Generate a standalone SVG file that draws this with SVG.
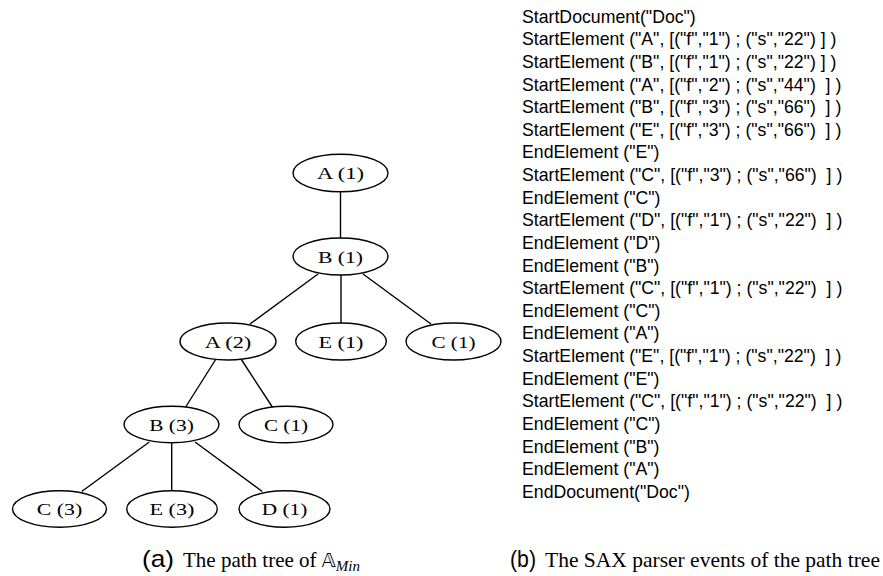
<svg xmlns="http://www.w3.org/2000/svg" width="883" height="576" viewBox="0 0 883 576">
<style>
.node ellipse{fill:#fff;stroke:#000;stroke-width:1.4}
.node text{font-family:"Liberation Serif","Times New Roman",serif;font-size:16px;text-anchor:middle;fill:#000}
.edges line{stroke:#000;stroke-width:1.4}
.ev text{font-family:"Liberation Sans",Arial,sans-serif;font-size:17.7px;fill:#000;white-space:pre}
.cap{font-family:"Liberation Serif","Times New Roman",serif;font-size:21px;fill:#000}
.capl{font-family:"Liberation Sans",Arial,sans-serif;font-size:24px}
</style>
<rect width="883" height="576" fill="#fff"/>
<g class="edges">
<line x1="340.5" y1="192" x2="340.5" y2="238"/>
<line x1="318" y1="274" x2="250" y2="324"/>
<line x1="341" y1="275" x2="341" y2="323"/>
<line x1="363" y1="274" x2="431" y2="324"/>
<line x1="216" y1="359" x2="185" y2="408"/>
<line x1="241" y1="359" x2="273" y2="408"/>
<line x1="149.3" y1="442" x2="81.7" y2="491.5"/>
<line x1="171.7" y1="443" x2="171.7" y2="491"/>
<line x1="195" y1="442" x2="262.3" y2="491.5"/>
</g>
<g id="n_A1" class="node"><ellipse cx="340.5" cy="173" rx="47.5" ry="18.8"/><text x="340.5" y="179" textLength="47" lengthAdjust="spacingAndGlyphs">A (1)</text></g>
<g id="n_B1" class="node"><ellipse cx="340.5" cy="256.5" rx="47.5" ry="18.5"/><text x="340.5" y="262.5" textLength="45" lengthAdjust="spacingAndGlyphs">B (1)</text></g>
<g id="n_A2" class="node"><ellipse cx="228" cy="341.5" rx="48" ry="18.5"/><text x="228" y="347.5" textLength="46.5" lengthAdjust="spacingAndGlyphs">A (2)</text></g>
<g id="n_E1" class="node"><ellipse cx="341" cy="341.5" rx="45.3" ry="18.5"/><text x="341" y="347.5" textLength="45" lengthAdjust="spacingAndGlyphs">E (1)</text></g>
<g id="n_C1" class="node"><ellipse cx="453.5" cy="341.5" rx="47.5" ry="18.5"/><text x="453.5" y="347.5" textLength="44" lengthAdjust="spacingAndGlyphs">C (1)</text></g>
<g id="n_B3" class="node"><ellipse cx="171.5" cy="424.5" rx="47.5" ry="18.3"/><text x="171.5" y="430.5" textLength="44.5" lengthAdjust="spacingAndGlyphs">B (3)</text></g>
<g id="n_C1b" class="node"><ellipse cx="286" cy="424.5" rx="47" ry="18.3"/><text x="286" y="430.5" textLength="44" lengthAdjust="spacingAndGlyphs">C (1)</text></g>
<g id="n_C3" class="node"><ellipse cx="59.5" cy="509" rx="47" ry="18.3"/><text x="59.5" y="515" textLength="45.5" lengthAdjust="spacingAndGlyphs">C (3)</text></g>
<g id="n_E3" class="node"><ellipse cx="172" cy="509" rx="45.3" ry="18.3"/><text x="172" y="515" textLength="45" lengthAdjust="spacingAndGlyphs">E (3)</text></g>
<g id="n_D1" class="node"><ellipse cx="284.5" cy="509" rx="45.5" ry="18.3"/><text x="284.5" y="515" textLength="45.5" lengthAdjust="spacingAndGlyphs">D (1)</text></g>
<g id="events" class="ev">
<text x="522" y="22.7">StartDocument("Doc")</text>
<text x="522" y="45.3">StartElement ("A", [("f","1") ; ("s","22") ] )</text>
<text x="522" y="67.9">StartElement ("B", [("f","1") ; ("s","22") ] )</text>
<text x="522" y="90.6">StartElement ("A", [("f","2") ; ("s","44") &#160;] )</text>
<text x="522" y="113.2">StartElement ("B", [("f","3") ; ("s","66") &#160;] )</text>
<text x="522" y="135.8">StartElement ("E", [("f","3") ; ("s","66") &#160;] )</text>
<text x="522" y="158.4">EndElement ("E")</text>
<text x="522" y="181.0">StartElement ("C", [("f","3") ; ("s","66") &#160;] )</text>
<text x="522" y="203.7">EndElement ("C")</text>
<text x="522" y="226.3">StartElement ("D", [("f","1") ; ("s","22") &#160;] )</text>
<text x="522" y="248.9">EndElement ("D")</text>
<text x="522" y="271.5">EndElement ("B")</text>
<text x="522" y="294.1">StartElement ("C", [("f","1") ; ("s","22") &#160;] )</text>
<text x="522" y="316.8">EndElement ("C")</text>
<text x="522" y="339.4">EndElement ("A")</text>
<text x="522" y="362.0">StartElement ("E", [("f","1") ; ("s","22") &#160;] )</text>
<text x="522" y="384.6">EndElement ("E")</text>
<text x="522" y="407.2">StartElement ("C", [("f","1") ; ("s","22") &#160;] )</text>
<text x="522" y="429.9">EndElement ("C")</text>
<text x="522" y="452.5">EndElement ("B")</text>
<text x="522" y="475.1">EndElement ("A")</text>
<text x="522" y="497.7">EndDocument("Doc")</text>
</g>
<g id="caption_a">
<text class="cap capl" x="142" y="567" textLength="32" lengthAdjust="spacingAndGlyphs">(a)</text>
<text class="cap" x="183" y="567">The path tree of <tspan font-family="'DejaVu Sans',sans-serif" font-size="19">𝔸</tspan><tspan font-style="italic" font-size="15" dy="4">Min</tspan></text>
</g>
<g id="caption_b">
<text class="cap capl" x="510" y="567" textLength="26" lengthAdjust="spacingAndGlyphs">(b)</text>
<text class="cap" x="545" y="567" style="font-size:21.5px">The SAX parser events of the path tree</text>
</g>
</svg>
